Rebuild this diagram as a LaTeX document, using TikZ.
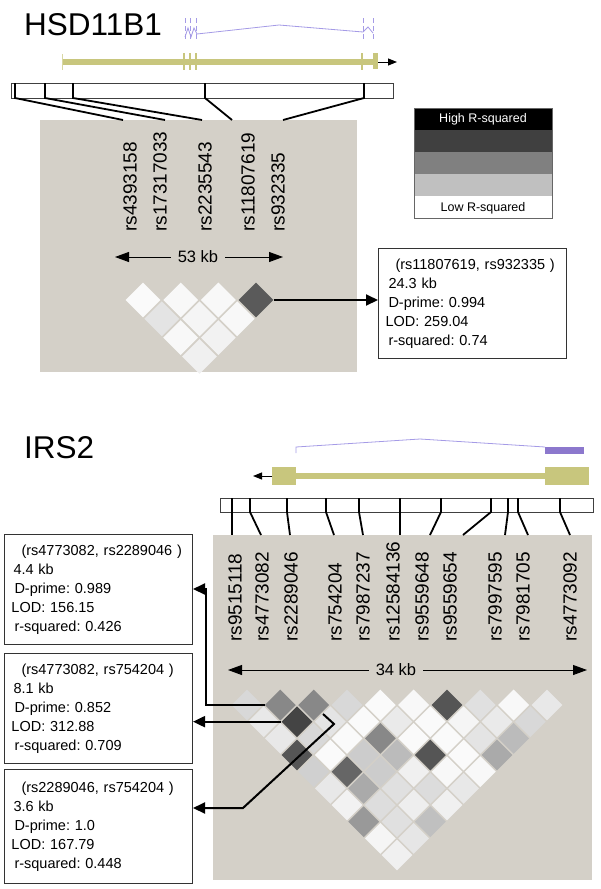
\documentclass[tikz,border=0pt]{standalone}
\usepackage{fontspec}
\setmainfont{Liberation Sans}
\usepackage{tikz}
\usetikzlibrary{shapes,shapes.geometric}
\usetikzlibrary{calc,arrows,arrows.meta,positioning}
\definecolor{panelgray}{RGB}{212,208,200}
\definecolor{geneolive}{RGB}{200,198,125}
\definecolor{intronviolet}{RGB}{165,155,230}
\definecolor{exonviolet}{RGB}{140,120,205}
\frenchspacing

\begin{document}
\begin{tikzpicture}[x=1pt,y=-1pt]
	\tikzstyle{genetitle}=[inner sep=0pt,anchor=base west,font=\fontsize{31.5}{36}\selectfont]
	\tikzstyle{snpbox}=[draw=black!75,line width=1pt,fill=white]
	\tikzstyle{snpline}=[line width=1.8pt,black]
	\tikzstyle{snplabel}=[rotate=90,anchor=west,inner sep=0pt,font=\fontsize{19}{22}\selectfont]
	\tikzstyle{kbarrow}=[line width=0.9pt,-{Triangle[length=14pt,width=10pt]}]
	\tikzstyle{kblabel}=[inner xsep=7pt,font=\fontsize{16.5}{20}\selectfont]
	\tikzstyle{ldcell}=[diamond,inner sep=0pt,draw=none]
	\tikzstyle{infobox}=[draw=black!80,line width=1pt,fill=white,anchor=north west,minimum width=188pt,minimum height=110pt,inner xsep=7pt,text width=174pt,align=left,font=\fontsize{14.5}{19}\selectfont]
	\tikzstyle{infoarrow}=[line width=2pt,-{Triangle[length=12pt,width=11pt]}]
	\tikzstyle{genearrow}=[line width=1pt,-{Triangle[length=9pt,width=7pt]}]
	\tikzstyle{legendtext}=[font=\fontsize{12.5}{15}\selectfont]
	\useasboundingbox (0,0) rectangle (600,889);

	% ---------- HSD11B1 ----------
	\node[genetitle] (hsdtitle) at (24,35) {HSD11B1};
	\foreach \x in {185,190,196,363,373}
		\draw[intronviolet,line width=0.8pt,dash pattern=on 5pt off 3pt] (\x,18) -- (\x,40);
	\draw[intronviolet,line width=0.8pt] (185,37) -- (188,28) -- (191,37) -- (194,28) -- (197,34) -- (279,25) -- (363,32) -- (368,27) -- (373,33);
	\fill[geneolive] (62,58.5) rectangle (374,64.5);
	\draw[geneolive!70,line width=1pt] (62,54) -- (62,70);
	\foreach \x in {184,190,196,362}
		\draw[geneolive,line width=1.5pt] (\x,53) -- (\x,70);
	\fill[geneolive] (373,53) rectangle (378,69);
	\coordinate (hsdend) at (378,62);
	\coordinate (hsdtip) at (397,62);
	\draw[genearrow] (hsdend) -- (hsdtip);

	\fill[panelgray] (40,120) rectangle (357,372);
	\draw[snpbox] (11,83) rectangle (393,98);
	\foreach \p/\q [count=\k] in {15/123,45/165,73/202,205/232,364/283}{
		\coordinate (hs\k) at (\p,83);
		\coordinate (hm\k) at (\p,98);
		\coordinate (he\k) at (\q,120);
		\draw[snpline] (hs\k) -- (hm\k) -- (he\k);
	}
	\foreach \x/\rs [count=\k] in {130/rs4393158,160/rs17317033,205/rs2235543,248/rs11807619,278/rs932335}
		\node[snplabel] (hl\k) at (\x,232) {\rs};

	\node[kblabel] (kb53) at (198,257) {53 kb};
	\coordinate (kb53l) at (115,257);
	\coordinate (kb53r) at (283,257);
	\draw[kbarrow] (kb53.west) -- (kb53l);
	\draw[kbarrow] (kb53.east) -- (kb53r);

	% LD cells, row by row
	\foreach \rw/\cols in {1/{250,248,248,90},2/{228,245,248},3/{248,242},4/{240}}
		\foreach \g [count=\i] in \cols
			\node[ldcell,minimum width=35pt,minimum height=35pt,fill={rgb,255:red,\g;green,\g;blue,\g}] (t\rw-\i) at ({143+(\i-1)*37.67+(\rw-1)*18.83},{300+(\rw-1)*18.83}) {};

	\node[infobox] (hsdbox) at (378,248) {\hspace*{10pt}(rs11807619, rs932335 )\\ \hspace*{3pt}24.3 kb\\ \hspace*{3pt}D-prime: 0.994\\ LOD: 259.04\\ \hspace*{3pt}r-squared: 0.74};
	\draw[infoarrow] (t1-4.east) -- (t1-4.east -| hsdbox.west);

	% legend
	\foreach \g [count=\k] in {0,64,128,192,255}
		\fill[fill={rgb,255:red,\g;green,\g;blue,\g}] (414,{108+(\k-1)*22}) rectangle (552,{130+(\k-1)*22});
	\draw[draw=black!60,line width=0.8pt] (414,108) rectangle (552,218);
	\node[legendtext,white] (highr) at (483,119) {High R-squared};
	\node[legendtext] (lowr) at (483,208) {Low R-squared};

	% ---------- IRS2 ----------
	\node[genetitle] (irstitle) at (24,458) {IRS2};
	\draw[intronviolet,line width=0.8pt] (296,453) -- (296,447) -- (420,439) -- (545,447);
	\fill[exonviolet] (545,447) rectangle (584,454);
	\fill[geneolive] (272,467) rectangle (296,485);
	\fill[geneolive] (296,473) rectangle (545,479);
	\fill[geneolive] (545,467) rectangle (589,485);
	\coordinate (irsstart) at (272,476);
	\coordinate (irstip) at (253,476);
	\draw[genearrow] (irsstart) -- (irstip);

	\fill[panelgray] (213,535) rectangle (592,880);
	\draw[snpbox] (220,498) rectangle (593,512);
	\foreach \p/\q [count=\k] in {232/232,250/261,287/290,326/334,359/363,400/400,441/430,491/463,508/505,518/528,560/570}{
		\coordinate (is\k) at (\p,498);
		\coordinate (im\k) at (\p,512);
		\coordinate (ie\k) at (\q,535);
		\draw[snpline] (is\k) -- (im\k) -- (ie\k);
	}
	\foreach \x/\rs [count=\k] in {235/rs9515118,262/rs4773082,291/rs2289046,335/rs754204,363/rs7987237,393/rs12584136,422/rs9559648,450/rs9559654,495/rs7997595,523/rs7981705,570/rs4773092}
		\node[snplabel] (il\k) at (\x,642) {\rs};

	\node[kblabel] (kb34) at (396,670) {34 kb};
	\coordinate (kb34l) at (228,670);
	\coordinate (kb34r) at (587,670);
	\draw[kbarrow] (kb34.west) -- (kb34l);
	\draw[kbarrow] (kb34.east) -- (kb34r);

	\foreach \rw/\cols in {1/{216,136,136,216,250,248,85,224,248,232},2/{232,68,228,250,234,250,245,234,216},3/{232,216,250,136,250,250,228,187},4/{85,250,204,187,85,250,170},5/{208,102,204,240,248,248},6/{232,170,224,220,232},7/{242,221,238,240},8/{153,224,192},9/{245,230},10/{240}}
		\foreach \g [count=\i] in \cols
			\node[ldcell,minimum width=31pt,minimum height=31pt,fill={rgb,255:red,\g;green,\g;blue,\g}] (b\rw-\i) at ({247+(\i-1)*33.33+(\rw-1)*16.67},{705+(\rw-1)*16.67}) {};

	\node[infobox] (box1) at (4,534) {\hspace*{10pt}(rs4773082, rs2289046 )\\ \hspace*{2pt}4.4 kb\\ \hspace*{3pt}D-prime: 0.989\\ LOD: 156.15\\ \hspace*{3pt}r-squared: 0.426};
	\node[infobox] (box2) at (4,653) {\hspace*{10pt}(rs4773082, rs754204 )\\ \hspace*{2pt}8.1 kb\\ \hspace*{3pt}D-prime: 0.852\\ LOD: 312.88\\ \hspace*{3pt}r-squared: 0.709};
	\node[infobox,minimum height=114pt] (box3) at (4,769) {\hspace*{10pt}(rs2289046, rs754204 )\\ \hspace*{2pt}3.6 kb\\ \hspace*{3pt}D-prime: 1.0\\ LOD: 167.79\\ \hspace*{3pt}r-squared: 0.448};

	\coordinate (bend1) at (206,589);
	\draw[infoarrow] (b1-2.west) -| (bend1) -- (bend1 -| box1.east);
	\draw[infoarrow] (b2-2.west) -- (b2-2.west -| box2.east);
	\coordinate (hook3a) at (323,714);
	\coordinate (hook3b) at (334,724);
	\coordinate (bend3) at (243,808);
	\draw[infoarrow] (hook3a) -- (hook3b) -- (bend3) -- (bend3 -| box3.east);
\end{tikzpicture}
\end{document}
